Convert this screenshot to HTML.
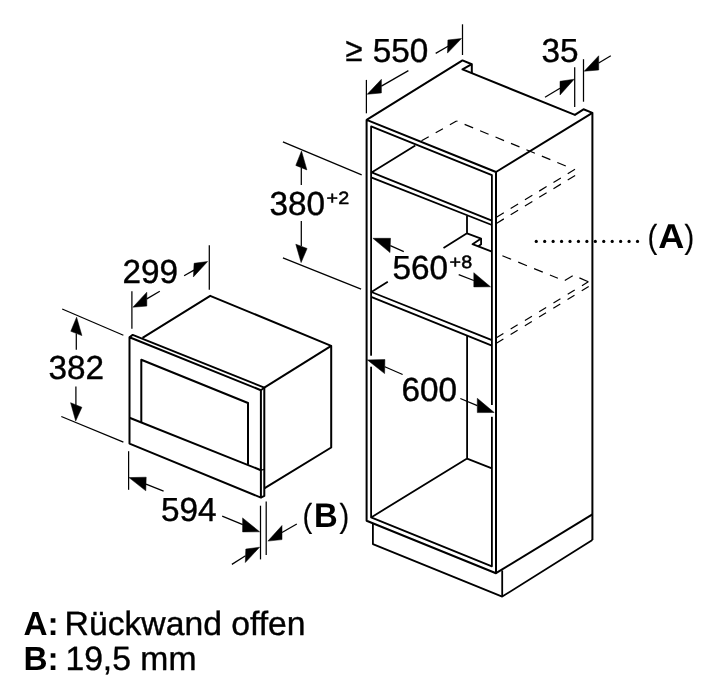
<!DOCTYPE html>
<html>
<head>
<meta charset="utf-8">
<title>Einbauskizze</title>
<style>
html,body{margin:0;padding:0;background:#fff;}
body{width:720px;height:699px;overflow:hidden;font-family:"Liberation Sans",sans-serif;}
svg{display:block;position:absolute;left:0;top:0;will-change:transform;}
.o{stroke:#000;stroke-width:2;fill:none;stroke-linecap:butt;stroke-linejoin:round;}
.k{stroke:#000;stroke-width:1.8;fill:none;stroke-linecap:butt;stroke-linejoin:round;}
.m{stroke:#000;stroke-width:2;fill:none;stroke-linecap:butt;stroke-linejoin:round;}
.t{stroke:#000;stroke-width:1.25;fill:none;}
.d{stroke:#000;stroke-width:1.2;fill:none;}
.w{stroke:#fff;stroke-width:3.2;fill:none;}
.a{fill:#000;stroke:#000;stroke-width:0.5;stroke-linejoin:round;}
text{font-family:"Liberation Sans",sans-serif;fill:#000;text-rendering:geometricPrecision;stroke:#000;stroke-width:0.4px;stroke-linejoin:round;}
.n{font-size:33.3px;}
.s{font-size:17.8px;stroke-width:0.5px;}
.b{font-weight:bold;stroke:none;}
.p{stroke-width:0.15px;}
</style>
</head>
<body>
<svg width="720" height="699" viewBox="0 0 720 699">
<rect x="0" y="0" width="720" height="699" fill="#fff"/>

<!-- ===== CABINET ===== -->
<g class="o">
<!-- top face -->
<path d="M366.6 119.9 L462.5 60.4 L471.8 64.2 L471.8 73.2"/>
<path d="M471.8 64.2 L462.5 69.4 L574.9 114.9 L583.5 109.3 L592.4 112.9 L592.4 540"/>
<path d="M592.4 112.9 L496 172"/>
<!-- front outer -->
<path d="M366.6 520.8 L366.6 119.9 L496 172 L496 573.2 Z"/>
<!-- side bottom -->
<path d="M496 573.2 L592.4 514.4"/>
</g>
<g class="k">
<!-- front inner -->
<path d="M371.1 517.4 L371.1 126.4 L491.9 175.2 L491.9 566.3 Z"/>
<!-- shelf 1 -->
<path d="M415.3 145.6 L371.6 172.4 L491.9 220.6"/>
<path d="M371.1 177.3 L491.9 225"/>
<!-- shelf 2 -->
<path d="M387.8 281.7 L371.4 292 L491.9 340.1"/>
<path d="M371.1 296.8 L491.9 345.6"/>
<!-- bracket (A) -->
<path d="M467 216 L467 233.3 L443.5 248.1"/>
<path d="M467 233.3 L481.1 238.6 L472.5 244.2 L491.9 251.7"/>
<path d="M481.1 238.6 L481.1 244.2 L478.1 246.4"/>
<!-- lower compartment -->
<path d="M467.1 336 L467.1 458.6 L371.1 517.4"/>
<path d="M467.1 458.6 L491.9 468.4"/>
<!-- plinth -->
<path d="M372.9 523.4 L372.9 544.1 L502.2 596.6 L592.4 540"/>
<path d="M502.2 570.4 L502.2 596.6"/>
</g>
<!-- halo gaps in inner frame at 600 arrows -->
<path class="w" d="M371.1 355.7 L371.1 366.7"/>
<path class="w" d="M491.9 405 L491.9 416.8"/>

<!-- dashed hidden lines -->
<g class="d">
<path d="M421.5 140.8 L456.5 121" stroke-dasharray="8.3 8"/>
<path d="M456.5 121 L567 166.5" stroke-dasharray="1 7.8 9.2 7.5 9.2 7.5 9.2 7.5 9.2 7.5 9.2 7.5 9.2 7.5 9.2 40"/>
<path d="M496.4 217.2 L575 169.3" stroke-dasharray="8.7 8"/>
<path d="M496.4 223.4 L575.2 175.4" stroke-dasharray="8.7 8"/>
<path d="M502.4 255.7 L557.9 278.3" stroke-dasharray="9.4 7.7"/>
<path d="M564.8 280.5 L572.7 275.8"/>
<path d="M579.4 277.9 L588.3 281.8"/>
<path d="M496.4 337.8 L588.3 281.8" stroke-dasharray="8.2 8.5"/>
<path d="M496.4 343.3 L588.7 286.5" stroke-dasharray="8.2 8.5"/>
</g>

<!-- dotted leader -->
<g fill="#000"><circle cx="536.25" cy="241.4" r="1.6"/><circle cx="544.69" cy="241.4" r="1.6"/><circle cx="553.13" cy="241.4" r="1.6"/><circle cx="561.57" cy="241.4" r="1.6"/><circle cx="570.01" cy="241.4" r="1.6"/><circle cx="578.45" cy="241.4" r="1.6"/><circle cx="586.89" cy="241.4" r="1.6"/><circle cx="595.33" cy="241.4" r="1.6"/><circle cx="603.77" cy="241.4" r="1.6"/><circle cx="612.21" cy="241.4" r="1.6"/><circle cx="620.65" cy="241.4" r="1.6"/><circle cx="629.09" cy="241.4" r="1.6"/><circle cx="637.53" cy="241.4" r="1.6"/></g>

<!-- ===== MICROWAVE ===== -->
<g class="m">
<path d="M142.5 337.9 L210.2 295.8 L331.2 345.9 L331.2 447.5 L264.3 488.4"/>
<path d="M331.2 345.9 L264.3 387.6"/>
<!-- door -->
<path d="M129.5 443.6 L129.5 337.2 L260.9 390.2 L260.9 497.6 Z"/>
<path d="M129.5 337.2 L132.7 334.9 L264.3 387.6 L264.3 495.9 L260.9 497.6"/>
<!-- window -->
<path d="M141.3 422.4 L141.3 359.8 L248 403 L248 464.8"/>
<!-- panel line -->
<path d="M129.5 417.7 L260.9 470.2"/>
</g>
<path class="t" d="M260.9 470.2 L264.3 469.4"/>
<path class="k" d="M260.9 390.2 L264.3 387.6"/>

<!-- ===== DIMENSION LINES ===== -->
<g class="t">
<!-- >=550 -->
<path d="M462.5 24.3 L462.5 55"/>
<path d="M366.4 79.9 L366.4 113.3"/>
<path d="M435.7 53.4 L448 46.3"/>
<path d="M381.4 86.1 L408.4 70.6"/>
<!-- 35 -->
<path d="M574.7 67.2 L574.7 107"/>
<path d="M583.5 59.2 L583.5 101.7"/>
<path d="M545 97.2 L560 88.2"/>
<path d="M598.7 63 L610.8 55.8"/>
<!-- 380 -->
<path d="M282.9 141.8 L361.7 174.9"/>
<path d="M282.9 257.9 L361.1 289.1"/>
<path d="M301.3 167.8 L301.3 184.9"/>
<path d="M301.3 221 L301.3 246"/>
<!-- 560 -->
<path d="M390.3 245.6 L403.8 251.6"/>
<path d="M458.7 274.7 L473.8 280.5"/>
<!-- 600 -->
<path d="M384.8 366.7 L402.6 374.5"/>
<path d="M460.3 398.5 L477.3 405.7"/>
<!-- 299 -->
<path d="M209.3 245.2 L209.3 289.8"/>
<path d="M131.9 291.2 L131.9 328.7"/>
<path d="M184.1 275.8 L194 270.1"/>
<path d="M146.8 298.9 L159.8 291.2"/>
<!-- 382 -->
<path d="M62.2 309 L123.4 335.3"/>
<path d="M61.3 416.5 L123.4 442.2"/>
<path d="M76.3 333.5 L76.3 349.8"/>
<path d="M75.9 386.4 L75.9 405"/>
<!-- 594 -->
<path d="M128.6 451.2 L128.6 489.8"/>
<path d="M146 484.1 L163.6 491.1"/>
<path d="M222.2 516.2 L242.8 524.7"/>
<!-- B -->
<path d="M260.5 505.7 L260.5 559.4"/>
<path d="M266.2 501.4 L266.2 555.1"/>
<path d="M282 532.5 L296.8 524"/>
<path d="M231.9 564.4 L245.5 555.8"/>
</g>

<!-- arrowheads -->
<g class="a">
<!-- >=550 -->
<polygon points="461.5,38.5 447.9,40 447.5,53.1"/>
<polygon points="367.2,94.3 381.4,79.3 381.4,92.9"/>
<!-- 35 -->
<polygon points="574.2,79.2 560,81.3 560,95"/>
<polygon points="584.2,71.2 598.7,55.8 598.7,70"/>
<!-- 380 -->
<polygon points="301.5,151 295.8,165.4 306.9,169.9"/>
<polygon points="301.1,262.6 295.8,244.2 307.1,248.5"/>
<!-- 560 -->
<polygon points="372.9,238.3 390.5,238.3 390,252.6"/>
<polygon points="490.5,286.8 473.8,272.7 473.8,286.9"/>
<!-- 600 -->
<polygon points="367.4,359.9 384.9,359.5 384.6,373.6"/>
<polygon points="494.2,412.5 477.3,398.3 477.3,412.6"/>
<!-- 299 -->
<polygon points="207.6,261.5 194.1,263.3 193.4,276.9"/>
<polygon points="132.9,307.2 146.8,292.2 146.8,306.1"/>
<!-- 382 -->
<polygon points="76.6,317.2 70.8,331.3 81.9,335.6"/>
<polygon points="75.7,421 70.6,402.7 81.9,407.3"/>
<!-- 594 -->
<polygon points="129,477.6 146.2,477.2 145.8,490.8"/>
<polygon points="259.6,531.8 242.6,517.9 242.6,531.9"/>
<!-- B -->
<polygon points="267.9,541.1 282,525.5 282,539.6"/>
<polygon points="259.6,547.2 245.8,549.1 245.3,562.5"/>
</g>

<!-- ===== TEXT ===== -->
<text class="n" transform="translate(345.4 61) scale(0.93 1)">≥</text>
<text class="n" x="372.8" y="61.8">550</text>
<text class="n" x="541.4" y="62">35</text>
<text class="n" x="269.4" y="215.2">380</text>
<text class="s" transform="translate(326.6 204.2) scale(1.11 1)">+2</text>
<text class="n" x="392.4" y="279">560</text>
<text class="s" transform="translate(449.6 267.8) scale(1.11 1)">+8</text>
<text class="n" x="401.4" y="401.3">600</text>
<text class="n" x="122.4" y="283.2">299</text>
<text class="n" x="48.4" y="379.4">382</text>
<text class="n" x="160.9" y="520.8">594</text>
<text class="n p" transform="translate(647.6 247.6) scale(0.88 1)">(</text>
<text class="n b" transform="translate(658.2 247.6) scale(1.05 1)" style="font-size:34.4px">A</text>
<text class="n p" transform="translate(684.4 247.6) scale(0.88 1)">)</text>
<text class="n p" transform="translate(302.6 526.9) scale(0.88 1)">(</text>
<text class="n b" transform="translate(314 526.9) scale(0.96 1)" style="font-size:34.2px">B</text>
<text class="n p" transform="translate(339.4 526.9) scale(0.88 1)">)</text>
<text class="n b" x="23.4" y="635.3">A:</text>
<text class="n" x="64.6" y="635.3" style="font-size:33.7px">Rückwand offen</text>
<text class="n b" x="23.4" y="669.6">B:</text>
<text class="n" x="65.4" y="669.6" style="font-size:33.7px">19,5 mm</text>
</svg>
</body>
</html>
